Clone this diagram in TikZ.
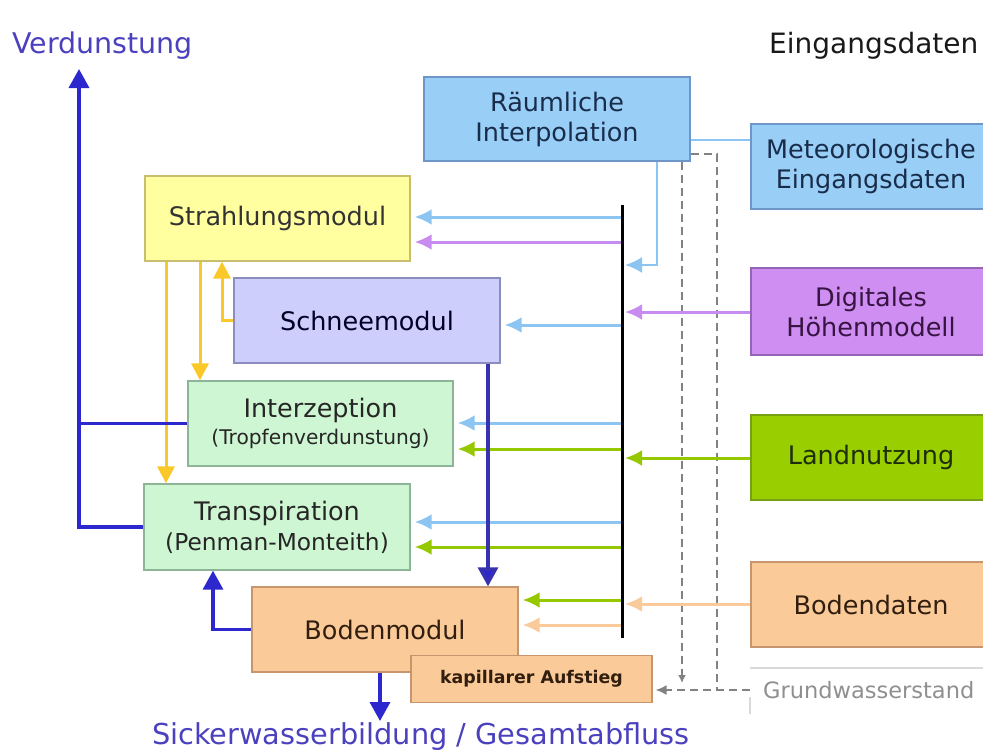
\documentclass[tikz,border=0pt]{standalone}
\usepackage{fontspec}
\setmainfont{DejaVu Sans}
\usetikzlibrary{arrows.meta}
\definecolor{cBlue}{RGB}{153,206,247}
\definecolor{cBlueD}{RGB}{110,150,200}
\definecolor{cBlueT}{RGB}{25,45,75}
\definecolor{cPurp}{RGB}{206,142,242}
\definecolor{cPurpD}{RGB}{150,100,180}
\definecolor{cPurpT}{RGB}{55,20,65}
\definecolor{cGreen}{RGB}{153,206,0}
\definecolor{cGreenD}{RGB}{120,160,20}
\definecolor{cGreenT}{RGB}{30,45,10}
\definecolor{cPeach}{RGB}{250,202,152}
\definecolor{cPeachD}{RGB}{200,150,110}
\definecolor{cPeachT}{RGB}{50,30,15}
\definecolor{cYel}{RGB}{255,255,160}
\definecolor{cYelD}{RGB}{200,190,110}
\definecolor{cLav}{RGB}{206,206,252}
\definecolor{cLavD}{RGB}{140,140,190}
\definecolor{cMint}{RGB}{206,246,210}
\definecolor{cMintD}{RGB}{140,180,150}
\definecolor{lnBlue}{RGB}{140,196,242}
\definecolor{lnPurp}{RGB}{200,140,240}
\definecolor{lnGreen}{RGB}{150,200,0}
\definecolor{lnPeach}{RGB}{250,202,155}
\definecolor{lnYel}{RGB}{250,200,40}
\definecolor{lnDark}{RGB}{45,40,205}
\definecolor{lnNavy}{RGB}{55,50,175}
\definecolor{titleC}{RGB}{75,65,190}
\definecolor{grayC}{RGB}{130,130,130}
\begin{document}
\begin{tikzpicture}[x=1pt,y=-1pt,
  box/.style={rectangle, inner sep=0pt, line width=1.3pt, align=center,
    font=\fontsize{25.5}{30}\selectfont},
  colar/.style={line width=3pt, -{Latex[length=17pt,width=16pt]}, shorten >=4pt},
  darkar/.style={line width=3.4pt, draw=lnDark, -{Triangle[length=19pt,width=20pt]}},
  yelar/.style={line width=3pt, draw=lnYel, -{Triangle[length=17pt,width=17pt]}},
  gdash/.style={draw=grayC, line width=1.6pt, dash pattern=on 8pt off 5pt}]
\useasboundingbox (0,0) rectangle (983,753);
\clip (0,0) rectangle (983,753);

% boxes
\node[box, fill=cBlue, draw=cBlueD, text=cBlueT, minimum width=266pt, minimum height=84pt] (raum) at (557,119) {Räumliche\\Interpolation};
\node[box, fill=cBlue, draw=cBlueD, text=cBlueT, minimum width=240pt, minimum height=85pt] (meteo) at (871,166.5) {Meteorologische\\Eingangsdaten};
\node[box, fill=cPurp, draw=cPurpD, text=cPurpT, minimum width=240pt, minimum height=87pt] (dhm) at (871,311.5) {Digitales\\Höhenmodell};
\node[box, fill=cGreen, draw=cGreenD, text=cGreenT, minimum width=240pt, minimum height=85pt] (land) at (871,457.5) {Landnutzung};
\node[box, fill=cPeach, draw=cPeachD, text=cPeachT, minimum width=240pt, minimum height=85pt] (bdat) at (871,604.5) {Bodendaten};

\node[box, fill=cYel, draw=cYelD, text=black!80, minimum width=265pt, minimum height=85pt] (strahl) at (277.5,218.5) {Strahlungsmodul};
\node[box, fill=cLav, draw=cLavD, text=black!75!blue!60!black, minimum width=266pt, minimum height=85pt] (schnee) at (367,320.5) {Schneemodul};
\node[box, fill=cMint, draw=cMintD, text=black!85, minimum width=265pt, minimum height=85pt] (interz) at (320.5,423.5) {\fontsize{25.5}{26}\selectfont Interzeption\\[-3pt]\fontsize{20.2}{24}\selectfont (Tropfenverdunstung)};
\node[box, fill=cMint, draw=cMintD, text=black!85, minimum width=266pt, minimum height=86pt] (transp) at (277,527) {\fontsize{25.5}{27}\selectfont Transpiration\\\fontsize{23.3}{27}\selectfont (Penman-Monteith)};
\node[box, fill=cPeach, draw=cPeachD, text=cPeachT, minimum width=266pt, minimum height=85pt] (bodenm) at (385,629.5) {Bodenmodul};
\node[box, fill=cPeach, draw=cPeachD, text=cPeachT, minimum width=241pt, minimum height=47pt, font=\fontsize{17.4}{20}\selectfont\bfseries] (kap) at (531.5,679) {kapillarer Aufstieg};

% titles
\node[text=titleC, font=\fontsize{28.5}{31}\selectfont, anchor=west, inner sep=0pt] (verd) at (12,46) {Verdunstung};
\node[text=black!90, font=\fontsize{28}{31}\selectfont, anchor=west, inner sep=0pt] (eing) at (769,46) {Eingangsdaten};
\node[text=titleC, font=\fontsize{28.8}{31}\selectfont, inner sep=0pt] (sick) at (421,737) {Sickerwasserbildung / Gesamtabfluss};
\node[text=grayC!90, font=\fontsize{22.5}{26}\selectfont, anchor=west, inner sep=0pt] (grund) at (763,690) {Grundwasserstand};

% decorative light lines near Grundwasserstand
\draw[black!15, line width=1.2pt] (750,668) -- (990,668);
\draw[black!15, line width=1.2pt] (750,697) -- (750,714);

% coordinates
\coordinate (bustop) at (622,205);
\coordinate (busbot) at (622,638);
\coordinate (b1) at (621,217);
\coordinate (b2) at (621,242);
\coordinate (b3) at (621,325);
\coordinate (b4) at (621,423);
\coordinate (b5) at (621,449);
\coordinate (b6) at (621,522);
\coordinate (b7) at (621,547);
\coordinate (b8) at (621,600);
\coordinate (b9) at (621,625);
\coordinate (i1) at (623,265);
\coordinate (i2) at (623,312);
\coordinate (i3) at (623,458);
\coordinate (i4) at (623,604);
\coordinate (m1) at (700,140);
\coordinate (rx) at (657,0);
\coordinate (vtop) at (79,69);
\coordinate (vcol) at (79,0);
\coordinate (ncol) at (488,0);
\coordinate (scol) at (380,0);
\coordinate (sbot) at (380,721);
\coordinate (bcol) at (213,0);
\coordinate (y1) at (166,0);
\coordinate (y2) at (200,0);
\coordinate (y3) at (222,0);
\coordinate (gw) at (750,690);
\coordinate (d1) at (682,683);
\coordinate (d1x) at (682,0);
\coordinate (d2top) at (717,154);
\coordinate (d2) at (717,690);

% dashed groundwater connections
\draw[gdash, -{Latex[length=11pt,width=10pt]}, shorten >=3pt] (gw) -- (kap.east |- gw);
\draw[gdash] (raum.east |- d2top) -- (d2top) -- (d2);
\draw[gdash, -{Latex[length=8pt,width=8pt]}] (raum.south -| d1x) -- (d1);

% meteo -> interpolation
\draw[lnBlue, line width=1.8pt] (meteo.west |- m1) -- (raum.east |- m1);

% bus
\draw[line width=3pt, black] (bustop) -- (busbot);

% inputs into bus
\draw[colar, draw=lnBlue, line width=2.2pt, shorten >=2pt] (raum.south -| rx) |- (i1);
\draw[colar, draw=lnPurp, shorten >=2pt] (dhm.west |- i2) -- (i2);
\draw[colar, draw=lnGreen, shorten >=2pt] (land.west |- i3) -- (i3);
\draw[colar, draw=lnPeach, shorten >=2pt] (bdat.west |- i4) -- (i4);

% bus to modules
\draw[colar, draw=lnBlue] (b1) -- (strahl.east |- b1);
\draw[colar, draw=lnPurp] (b2) -- (strahl.east |- b2);
\draw[colar, draw=lnBlue] (b3) -- (schnee.east |- b3);
\draw[colar, draw=lnBlue] (b4) -- (interz.east |- b4);
\draw[colar, draw=lnGreen] (b5) -- (interz.east |- b5);
\draw[colar, draw=lnBlue] (b6) -- (transp.east |- b6);
\draw[colar, draw=lnGreen] (b7) -- (transp.east |- b7);
\draw[colar, draw=lnGreen] (b8) -- (bodenm.east |- b8);
\draw[colar, draw=lnPeach] (b9) -- (bodenm.east |- b9);

% yellow arrows
\draw[yelar] (strahl.south -| y1) -- (transp.north -| y1);
\draw[yelar] (strahl.south -| y2) -- (interz.north -| y2);
\draw[yelar] (schnee.west) -| (strahl.south -| y3);

% dark blue arrows
\draw[darkar] (transp.west) -| (vtop);
\draw[lnDark, line width=3.4pt] (interz.west) -- (interz.west -| vcol);
\draw[darkar, draw=lnNavy, -{Triangle[length=19pt,width=20pt,fill=lnDark]}] (schnee.south -| ncol) -- (bodenm.north -| ncol);
\draw[darkar] (bodenm.west) -| (transp.south -| bcol);
\draw[darkar] (bodenm.south -| scol) -- (sbot);
\end{tikzpicture}
\end{document}
